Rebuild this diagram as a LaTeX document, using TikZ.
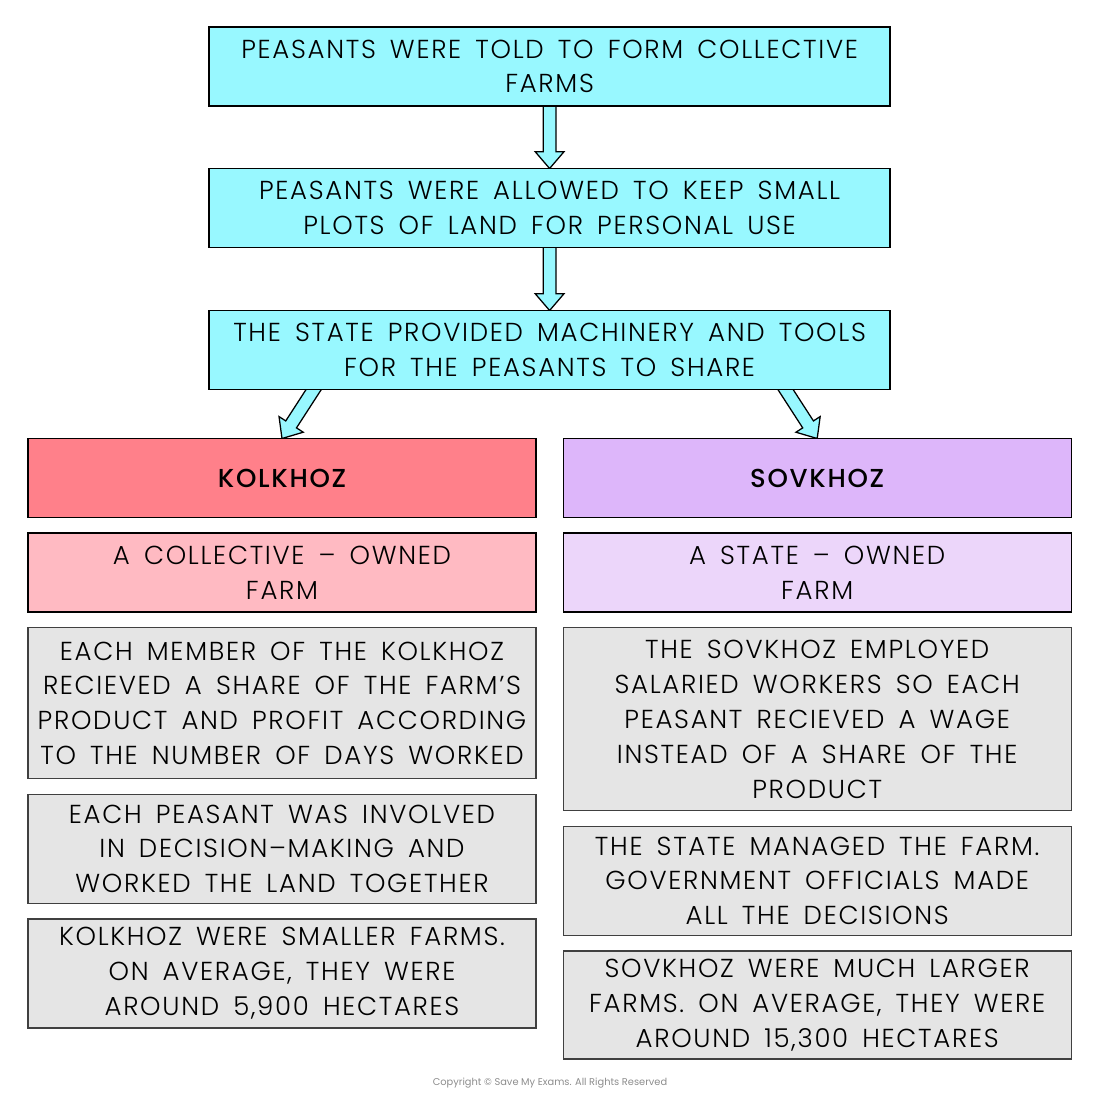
\documentclass[tikz,border=0pt]{standalone}
\usepackage{fontspec}
\setmainfont{Poppins}[UprightFont=* Light, BoldFont=* Medium, LetterSpace=6.5, WordSpace=1.6]
\newfontfamily\footfont{Poppins}
\usepackage{tikz}
\usetikzlibrary{calc}
\usetikzlibrary{positioning}
\definecolor{skyblue}{RGB}{152, 248, 255}
\definecolor{kolkhozred}{RGB}{255, 128, 138}
\definecolor{kolkhozpink}{RGB}{255, 186, 194}
\definecolor{sovkhozlilac}{RGB}{221, 182, 250}
\definecolor{sovkhozpale}{RGB}{236, 214, 250}
\definecolor{notegray}{RGB}{229, 229, 229}
\pgfdeclarelayer{background}
\pgfsetlayers{background,main}
% block arrow between two points
\newcommand{\blockarrow}[2]{%
    \coordinate (arr-s) at (#1);
    \coordinate (arr-e) at (#2);
    \coordinate (arr-h) at ($(arr-e)!0.42cm!(arr-s)$);
    \begin{pgfonlayer}{background}
    \draw[flowarrow] ($(arr-s)!0.16cm!90:(arr-e)$) -- ($(arr-h)!0.16cm!90:(arr-e)$)
        -- ($(arr-h)!0.36cm!90:(arr-e)$) -- (arr-e) -- ($(arr-h)!0.36cm!-90:(arr-e)$)
        -- ($(arr-h)!0.16cm!-90:(arr-e)$) -- ($(arr-s)!0.16cm!-90:(arr-e)$);
    \end{pgfonlayer}}

\begin{document}
\begin{tikzpicture}[
        box/.style={draw=black, line width=0.9pt, outer sep=0pt, inner sep=2pt, align=center,
                    font=\fontsize{18.5}{24.8}\selectfont},
        stagebox/.style={box, fill=skyblue, minimum width=17.025cm, minimum height=1.975cm},
        sidebox/.style={box, minimum width=12.7cm, minimum height=1.975cm},
        notebox/.style={sidebox, fill=notegray, draw=black!75},
        flowarrow/.style={draw=black, fill=skyblue, line width=0.9pt, line join=miter},
        node distance=0.39cm]
    \useasboundingbox (0, 0) rectangle (27.5, -27.5);
    % top chain
    \node[stagebox] (told)      at (13.74, -1.66) {PEASANTS WERE TOLD TO FORM COLLECTIVE\\FARMS};
    \node[stagebox] (plots)     at (13.74, -5.20) {PEASANTS WERE ALLOWED TO KEEP SMALL\\PLOTS OF LAND FOR PERSONAL USE};
    \node[stagebox] (machinery) at (13.74, -8.75) {THE STATE PROVIDED MACHINERY AND TOOLS\\FOR THE PEASANTS TO SHARE};
    % Kolkhoz column
    \node[sidebox, fill=kolkhozred, font=\fontsize{18.5}{24.8}\selectfont\bfseries] (kolkhoz) at (7.05, -11.95) {KOLKHOZ};
    \node[sidebox, fill=kolkhozpink, below=of kolkhoz] (collective) {A COLLECTIVE -- OWNED\\FARM};
    \node[notebox, minimum height=3.775cm, below=of collective] (share) {EACH MEMBER OF THE KOLKHOZ\\RECIEVED A SHARE OF THE FARM’S\\PRODUCT AND PROFIT ACCORDING\\TO THE NUMBER OF DAYS WORKED};
    \node[notebox, minimum height=2.725cm, below=of share] (decide) {EACH PEASANT WAS INVOLVED\\IN DECISION--MAKING AND\\WORKED THE LAND TOGETHER};
    \node[notebox, minimum height=2.725cm, below=of decide] (small) {KOLKHOZ WERE SMALLER FARMS.\\ON AVERAGE, THEY WERE\\AROUND 5,900 HECTARES};
    % Sovkhoz column
    \node[sidebox, fill=sovkhozlilac, font=\fontsize{18.5}{24.8}\selectfont\bfseries] (sovkhoz) at (20.43, -11.95) {SOVKHOZ};
    \node[sidebox, fill=sovkhozpale, below=of sovkhoz] (stateowned) {A STATE -- OWNED\\FARM};
    \node[notebox, minimum height=4.575cm, below=of stateowned] (wage) {THE SOVKHOZ EMPLOYED\\SALARIED WORKERS SO EACH\\PEASANT RECIEVED A WAGE\\INSTEAD OF A SHARE OF THE\\PRODUCT};
    \node[notebox, minimum height=2.725cm, below=of wage] (managed) {THE STATE MANAGED THE FARM.\\GOVERNMENT OFFICIALS MADE\\ALL THE DECISIONS};
    \node[notebox, minimum height=2.7cm, below=of managed] (large) {SOVKHOZ WERE MUCH LARGER\\FARMS. ON AVERAGE, THEY WERE\\AROUND 15,300 HECTARES};
    % arrows
    \blockarrow{$(told.south)+(0, 0.2)$}{plots.north}
    \blockarrow{$(plots.south)+(0, 0.2)$}{machinery.north}
    \blockarrow{$(machinery.south west)!0.165!(machinery.south east)+(0, 0.3)$}{kolkhoz.north}
    \blockarrow{$(machinery.south west)!0.835!(machinery.south east)+(0, 0.3)$}{sovkhoz.north}
    % footer
    \node[text=black!45, font=\footfont\fontsize{7}{8}\selectfont] (copyright) at (13.75, -27.08) {Copyright © Save My Exams. All Rights Reserved};
\end{tikzpicture}
\end{document}
